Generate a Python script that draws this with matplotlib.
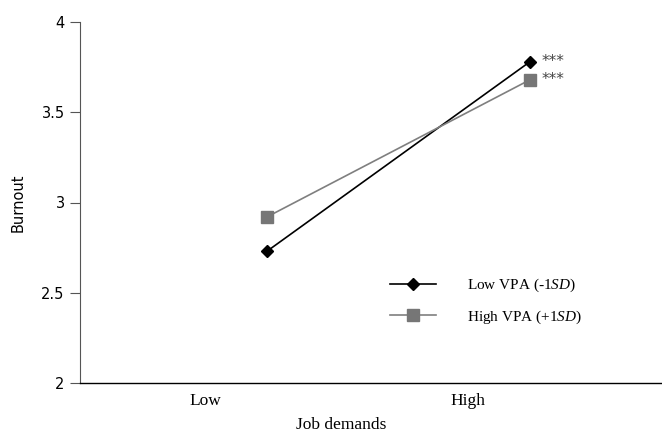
import matplotlib.pyplot as plt
import numpy as np

CATEGORIES = ["Low", "High"]
LOW_VPA = [2.73, 3.78]
HIGH_VPA = [2.92, 3.68]
SERIES_LABELS = ["Low VPA (-1$\\it{SD}$)", "High VPA (+1$\\it{SD}$)"]
SIG = ["***", "***"]

SERIF = "Liberation Serif"
plt.rcParams["mathtext.fontset"] = "custom"
plt.rcParams["mathtext.rm"] = SERIF
plt.rcParams["mathtext.it"] = SERIF + ":italic"

fig = plt.figure(figsize=(6.62, 4.33), dpi=100)
ax = fig.add_axes([80 / 662, 1 - 383 / 433, 582 / 662, 361 / 433])

xs = np.arange(len(CATEGORIES))
l1, = ax.plot(xs, LOW_VPA, color="black", linewidth=1.2, marker="D",
              markersize=6, markerfacecolor="black", markeredgecolor="black")
l2, = ax.plot(xs, HIGH_VPA, color="#7f7f7f", linewidth=1.2, marker="s",
              markersize=8, markerfacecolor="#767676", markeredgecolor="#767676")

for ys, s in zip((LOW_VPA, HIGH_VPA), SIG):
    ax.annotate(s, (xs[-1], ys[-1]), xytext=(8, 0), textcoords="offset points",
                va="center", ha="left", fontsize=11, color="#444444")

ax.set_xlim(-0.711, 1.502)
ax.set_ylim(2, 4)
ax.set_yticks([2, 2.5, 3, 3.5, 4])
ax.set_yticklabels(["2", "2.5", "3", "3.5", "4"], fontsize=10.5)
ax.set_xticks(xs - 0.236)
ax.set_xticklabels(CATEGORIES, fontsize=12.5, family=SERIF)
ax.tick_params(axis="x", length=0, pad=7)
ax.tick_params(axis="y", length=7, width=0.8, color="#555555", pad=4)

for s in ("top", "right"):
    ax.spines[s].set_visible(False)
ax.spines["left"].set_color("#555555")
ax.spines["left"].set_linewidth(0.8)
ax.spines["bottom"].set_color("black")
ax.spines["bottom"].set_linewidth(1.0)

ax.set_xlabel("Job demands", fontsize=12.5, family=SERIF, va="center")
ax.xaxis.set_label_coords(0.448, -0.117)
ax.set_ylabel("Burnout", fontsize=10.5, va="center")
ax.yaxis.set_label_coords(-0.107, 0.5)

leg = ax.legend([l1, l2], SERIES_LABELS, loc="upper left",
                bbox_to_anchor=(376 / 662, 1 - 263 / 433),
                bbox_transform=fig.transFigure, frameon=False,
                handlelength=3.0, handletextpad=2.05, labelspacing=0.95,
                prop={"family": SERIF, "size": 11})

fig.savefig("out.png", dpi=100)
